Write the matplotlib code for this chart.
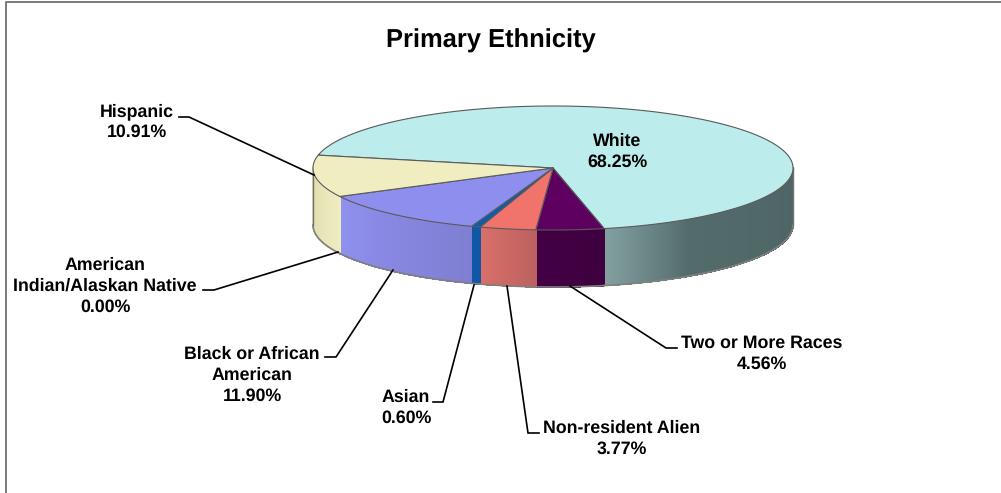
import numpy as np
import matplotlib
matplotlib.use("Agg")
import matplotlib.pyplot as plt
from matplotlib.patches import Polygon
from matplotlib.collections import PolyCollection
from matplotlib.colors import to_rgb

plt.rcParams['font.family'] = ['Liberation Sans', 'DejaVu Sans']
plt.rcParams['text.hinting'] = 'none'

title = "Primary Ethnicity"
categories = ["White", "Two or More Races", "Non-resident Alien", "Asian",
              "Black or African American", "American Indian/Alaskan Native", "Hispanic"]
values = [68.25, 4.56, 3.77, 0.60, 11.90, 0.00, 10.91]
label_text = ["White", "Two or More Races", "Non-resident Alien", "Asian",
              "Black or African\nAmerican", "American\nIndian/Alaskan Native", "Hispanic"]

top_colors = ["#BCECEC", "#5E0060", "#F0736C", "#0F5BB0", "#8E8EEE", "#9A9A9A", "#F0EEC0"]
side_colors = [
    [(0, "#4E6464"), (0.72, "#536B6B"), (1, "#83A0A0")],
    [(0, "#3E003F"), (1, "#430044")],
    [(0, "#BC6060"), (1, "#D87068")],
    [(0, "#0F58A8"), (1, "#0F58A8")],
    [(0, "#7E7ED2"), (1, "#9090F0")],
    [(0, "#9A9A9A"), (1, "#9A9A9A")],
    [(0, "#EFEDC0"), (1, "#DDDBAD")],
]
label_pos = [(617, 152), (762, 354), (622, 439), (406, 408),
             (252, 375), (105, 286), (137, 122)]
leaders = [
    None,
    [(570, 286), (666, 348), (677, 348)],
    [(507, 286), (528, 433), (539, 433)],
    [(474, 285), (443, 402), (433, 402)],
    [(393, 270), (336, 357), (325, 357)],
    [(338, 252), (214, 290), (203, 290)],
    [(314, 175), (189, 117), (179, 117)],
]

CX, CY, RX, RY, DEPTH = 553, 168, 240, 62, 57
START = 77.7  # white's clockwise end, in projected-pie degrees

fig = plt.figure(figsize=(10.01, 4.93), dpi=100)
ax = fig.add_axes([0, 0, 1, 1])
ax.set_xlim(0, 1001)
ax.set_ylim(493, 0)
ax.axis("off")


def rim(t, dy=0.0):
    r = np.radians(t)
    return np.column_stack([CX + RX * np.cos(r), CY + dy + RY * np.sin(r)])


# wedge angles, clockwise on screen, with White ending at START
spans = []
t = START - values[0] * 3.6
for v in values:
    spans.append((t, t + v * 3.6))
    t += v * 3.6


def visible_ranges(t0, t1):
    out = []
    for k in (-360, 0, 360):
        a, b = max(t0 + k, 0), min(t1 + k, 180)
        if b > a:
            out.append((a, b))
    return out


# outer walls
for (t0, t1), stops in zip(spans, side_colors):
    for a, b in visible_ranges(t0, t1):
        ts = np.linspace(a, b, max(int((b - a) * 4), 2) + 1)
        polys, cols = [], []
        pos = [s[0] for s in stops]
        rgb = np.array([to_rgb(s[1]) for s in stops])
        for i in range(len(ts) - 1):
            p = np.vstack([rim(ts[i:i + 2]), rim(ts[i:i + 2], DEPTH)[::-1]])
            polys.append(p)
            f = (i + .5) / (len(ts) - 1)
            cols.append([np.interp(f, pos, rgb[:, c]) for c in range(3)])
        ax.add_collection(PolyCollection(polys, facecolors=cols, edgecolors=cols, linewidths=0.6,
                                         antialiaseds=False, zorder=2))
        ax.plot(*rim(ts, DEPTH).T, color="#808080", lw=1.2, zorder=3)

# vertical outline at the two extremes of the wall
for e in (0, 180):
    q = np.vstack([rim([e]), rim([e], DEPTH)])
    ax.plot(*q.T, color="#707070", lw=1.0, zorder=3)

# top face
for (t0, t1), col in zip(spans, top_colors):
    if t1 - t0 <= 0:
        continue
    ts = np.linspace(t0, t1, max(int(t1 - t0) * 2, 2) + 1)
    pts = np.vstack([[CX, CY], rim(ts)])
    ax.add_patch(Polygon(pts, closed=True, facecolor=col, edgecolor="#5A5A5A", lw=0.8, zorder=4, joinstyle="round"))

# leader lines
for seg in leaders:
    if seg:
        ax.plot(*np.array(seg).T, color="black", lw=1.2, zorder=5, solid_joinstyle="miter")

# labels
for name, v, (x, y) in zip(label_text, values, label_pos):
    ax.text(x, y, f"{name}\n{v:.2f}%", ha="center", va="center", fontsize=12.8,
            fontweight="bold", color="black", linespacing=1.32, zorder=6)

ax.text(491, 41, title, ha="center", va="center", fontsize=18.4, fontweight="bold", color="black")

# chart area border: only top and left fall inside the crop
ax.plot([5.5, 5.5, 1001], [493, 1.5, 1.5], color="#707070", lw=1.3, clip_on=False)

fig.savefig("out.png", dpi=100)
